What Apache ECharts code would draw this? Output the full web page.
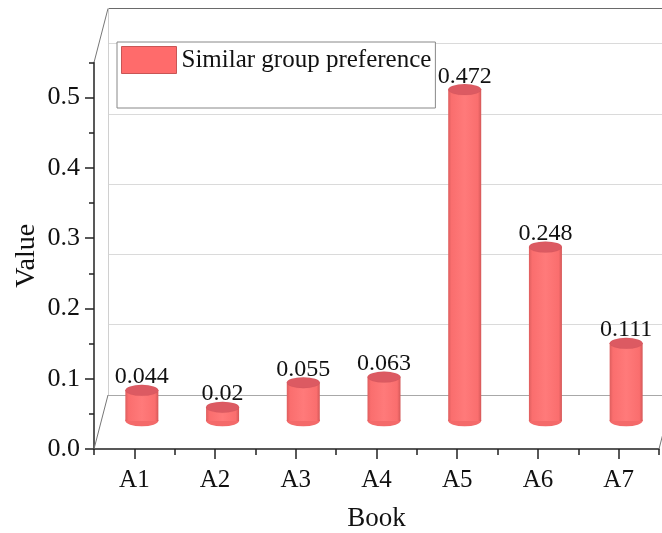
<!DOCTYPE html>
<html><head><meta charset="utf-8">
<script src="https://cdn.jsdelivr.net/npm/echarts@6/dist/echarts.min.js"></script>
<style>html,body{margin:0;padding:0;background:#fff}#c{width:662px;height:533px}</style>
</head><body><div id="c"></div>
<script>
const categories = ['A1','A2','A3','A4','A5','A6','A7'];
const values = [0.044, 0.02, 0.055, 0.063, 0.472, 0.248, 0.111];
const seriesName = 'Similar group preference';
const yTicks = [0, 0.1, 0.2, 0.3, 0.4, 0.5];
const yMinorTicks = [0.05, 0.15, 0.25, 0.35, 0.45, 0.55];
const yMin = 0, yMax = 0.55;
const xTitle = 'Book', yTitle = 'Value';

const FONT = 'Liberation Serif';
const W = 565, H = 386.5;
const front = {left: 94, top: 449 - H};
const back = {left: 108, top: 395 - H};
const mid = {left: 101.5, top: 421 - H};
const grid = g => ({left: g.left, top: g.top, width: W, height: H, containLabel: false, outerBoundsMode: 'none'});

const chart = echarts.init(document.getElementById('c'), null, {renderer: 'canvas'});
const barGrad = new echarts.graphic.LinearGradient(0, 0, 1, 0, [
  {offset: 0, color: '#DE5E5E'}, {offset: 0.1, color: '#FA6E6E'},
  {offset: 0.5, color: '#FF7A7A'}, {offset: 0.9, color: '#FA6E6E'},
  {offset: 1, color: '#D45858'}
]);
const hiddenCat = i => ({type: 'category', gridIndex: i, data: categories, show: false});
const hiddenVal = i => ({type: 'value', gridIndex: i, min: yMin, max: yMax, interval: 0.1, show: false});

chart.setOption({
  animation: false,
  backgroundColor: '#fff',
  grid: [grid(back), grid(mid), grid(front)],
  graphic: [
    {type: 'line', z: 1, shape: {x1: front.left, y1: front.top + H, x2: back.left, y2: back.top + H}, style: {stroke: '#777', lineWidth: 1}},
    {type: 'line', z: 1, shape: {x1: front.left, y1: front.top, x2: back.left, y2: back.top}, style: {stroke: '#777', lineWidth: 1}},
    {type: 'line', z: 1, shape: {x1: front.left + W, y1: front.top + H, x2: back.left + W, y2: back.top + H}, style: {stroke: '#777', lineWidth: 1}}
  ],
  legend: {
    data: [{name: seriesName, icon: 'rect', itemStyle: {color: '#FF6B6B', borderColor: '#C85555', borderWidth: 1}}],
    left: 117, top: 42, itemWidth: 55, itemHeight: 27,
    padding: [4, 4, 34, 4],
    backgroundColor: '#fff', borderColor: '#888', borderWidth: 1,
    selectedMode: false, z: 20,
    textStyle: {fontFamily: FONT, fontSize: 25, color: '#111'}
  },
  xAxis: [
    hiddenCat(0),
    hiddenCat(1),
    {type: 'category', gridIndex: 2, data: categories, position: 'bottom',
     name: xTitle, nameLocation: 'middle', nameGap: 56, nameMoveOverlap: false,
     nameTextStyle: {fontFamily: FONT, fontSize: 27, color: '#111'},
     axisLine: {show: true, lineStyle: {color: '#222', width: 1.5}},
     axisTick: {show: true, alignWithLabel: true, length: 10, lineStyle: {color: '#222', width: 1.5}},
     axisLabel: {fontFamily: FONT, fontSize: 25, color: '#111', margin: 19},
     splitLine: {show: false}},
    {type: 'category', gridIndex: 2, data: categories, position: 'bottom',
     axisLine: {show: false},
     axisTick: {show: true, length: 6, lineStyle: {color: '#222', width: 1.5}},
     axisLabel: {show: false}, splitLine: {show: false}}
  ],
  yAxis: [
    {type: 'value', gridIndex: 0, min: yMin, max: yMax, interval: 0.1,
     axisLine: {show: true, lineStyle: {color: '#d0d0d0', width: 1}},
     axisTick: {show: false}, axisLabel: {show: false},
     splitLine: {show: true, lineStyle: {color: ['#a8a8a8', '#dadada', '#dadada', '#dadada', '#dadada', '#dadada', '#6a6a6a'], width: 1.2}}},
    hiddenVal(1),
    {type: 'value', gridIndex: 2, position: 'left', min: yMin, max: yMax, interval: 0.1,
     name: yTitle, nameLocation: 'middle', nameGap: 53, nameMoveOverlap: false,
     nameTextStyle: {fontFamily: FONT, fontSize: 28, color: '#111'},
     axisLine: {show: true, lineStyle: {color: '#222', width: 1.5}},
     axisTick: {show: true, length: 9, customValues: yTicks, lineStyle: {color: '#222', width: 1.5}},
     axisLabel: {fontFamily: FONT, fontSize: 26, color: '#111', margin: 14, customValues: yTicks,
                 formatter: v => v.toFixed(1)},
     splitLine: {show: false}},
    {type: 'value', gridIndex: 2, position: 'left', min: yMin, max: yMax, interval: 0.05,
     axisLine: {show: false},
     axisTick: {show: true, length: 5, customValues: yMinorTicks, lineStyle: {color: '#222', width: 1.5}},
     axisLabel: {show: false}, splitLine: {show: false}}
  ],
  series: [
    {type: 'pictorialBar', name: 'base', xAxisIndex: 1, yAxisIndex: 1, data: values,
     symbol: 'circle', symbolSize: [33, 11], symbolPosition: 'start', symbolOffset: [0, '50%'],
     itemStyle: {color: '#F46A6A', borderColor: '#A84040', borderWidth: 0.8}, z: 3, silent: true},
    {type: 'bar', name: seriesName, xAxisIndex: 1, yAxisIndex: 1, data: values,
     barWidth: 33, itemStyle: {color: barGrad}, z: 4,
     label: {show: true, position: 'top', distance: 1, fontFamily: FONT, fontSize: 24, color: '#111'}},
    {type: 'pictorialBar', name: 'top', xAxisIndex: 1, yAxisIndex: 1, data: values,
     symbol: 'circle', symbolSize: [33, 11], symbolPosition: 'end', symbolOffset: [0, '-50%'],
     itemStyle: {color: '#DC5A62', borderColor: '#7A1E22', borderWidth: 1}, z: 5, silent: true}
  ]
});
</script></body></html>
